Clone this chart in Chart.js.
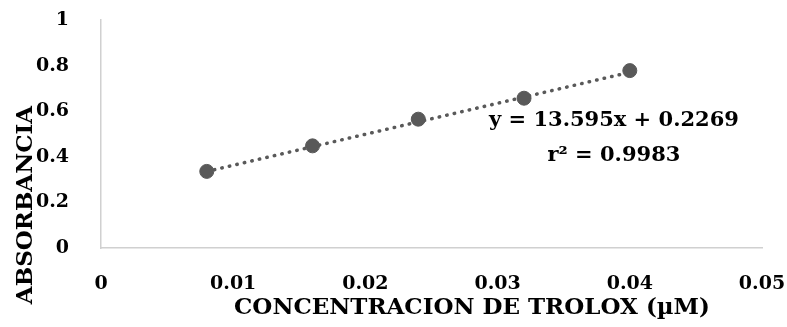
<!DOCTYPE html>
<html>
<head>
<meta charset="utf-8">
<script src="https://cdn.jsdelivr.net/npm/chart.js@4"></script>
<style>
html, body { margin: 0; padding: 0; background: #ffffff; }
#wrap { width: 787px; height: 327px; }
</style>
</head>
<body>
<div id="wrap"><canvas id="trolox"></canvas></div>
<script>
// data
const concentrations = [0.008, 0.016, 0.024, 0.032, 0.040];
const absorbance = [0.336, 0.448, 0.565, 0.657, 0.778];
const slope = 13.595;
const intercept = 0.2269;
const equationLines = ["y = 13.595x + 0.2269", "r² = 0.9983"];
const xTitle = "CONCENTRACION DE TROLOX (µM)";
const yTitle = "ABSORBANCIA";

const FONT = "'DejaVu Serif', 'Liberation Serif', serif";
const GREY = "#595959";

const points = concentrations.map((c, i) => ({ x: c, y: absorbance[i] }));
const xFirst = concentrations[0];
const xLast = concentrations[concentrations.length - 1];
const trend = [
  { x: xFirst, y: slope * xFirst + intercept },
  { x: xLast, y: slope * xLast + intercept }
];

// axis titles + equation text
const textPlugin = {
  id: "texts",
  afterDraw(chart) {
    const ctx = chart.ctx;
    const xs = chart.scales.x;
    const ys = chart.scales.y;
    ctx.save();
    ctx.fillStyle = "#000000";
    ctx.textAlign = "center";
    ctx.textBaseline = "middle";

    // equation
    ctx.font = "bold 21px " + FONT;
    const ex = xs.getPixelForValue(0.0388);
    ctx.fillText(equationLines[0], ex, ys.getPixelForValue(0.56));
    ctx.fillText(equationLines[1], ex, ys.getPixelForValue(0.405));

    // x title
    ctx.font = "bold 23px " + FONT;
    ctx.fillText(xTitle, 472, 308);

    // y title
    ctx.translate(26, 205);
    ctx.rotate(-Math.PI / 2);
    ctx.fillText(yTitle, 0, 0);
    ctx.restore();
  }
};

new Chart(document.getElementById("trolox"), {
  type: "scatter",
  data: {
    datasets: [
      {
        label: "Trolox",
        data: points,
        backgroundColor: GREY,
        borderColor: GREY,
        pointRadius: 7,
        pointHoverRadius: 7,
        showLine: false,
        order: 1
      },
      {
        label: "Lineal",
        data: trend,
        showLine: true,
        borderColor: GREY,
        borderWidth: 3.5,
        borderDash: [0.5, 7.2],
        borderCapStyle: "round",
        pointRadius: 0,
        fill: false,
        order: 2
      }
    ]
  },
  options: {
    responsive: true,
    maintainAspectRatio: false,
    animation: false,
    layout: { padding: { top: 20, right: 25, left: 0, bottom: 0 } },
    plugins: {
      legend: { display: false },
      tooltip: { enabled: false }
    },
    scales: {
      x: {
        type: "linear",
        min: 0,
        max: 0.05,
        grid: { display: false },
        border: { color: "#d0d0d0", width: 1.5 },
        ticks: {
          stepSize: 0.01,
          padding: 17,
          color: "#000000",
          font: { family: FONT, size: 19, weight: "bold" },
          callback: v => +v.toFixed(2)
        },
        afterFit(scale) {
          scale.height = 79;
          scale.paddingLeft = 0;
          scale.paddingRight = 0;
        }
      },
      y: {
        min: 0,
        max: 1,
        grid: { display: false },
        border: { color: "#d0d0d0", width: 1.5 },
        ticks: {
          stepSize: 0.2,
          padding: 24,
          color: "#000000",
          font: { family: FONT, size: 19, weight: "bold" },
          callback: v => +v.toFixed(1)
        },
        afterFit(scale) {
          scale.width = 101;
          scale.paddingTop = 0;
          scale.paddingBottom = 0;
        }
      }
    }
  },
  plugins: [textPlugin]
});
</script>
</body>
</html>
